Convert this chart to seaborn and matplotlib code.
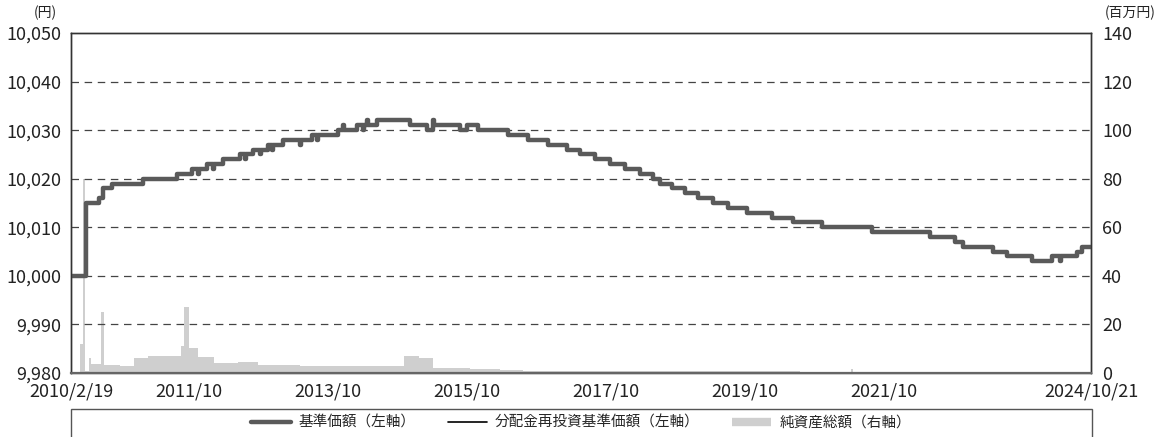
import pandas as pd
import numpy as np
import matplotlib.pyplot as plt
import matplotlib.ticker as mticker
from matplotlib.lines import Line2D
from matplotlib.patches import Rectangle
import seaborn as sns

# 基準価額（円）: 値が変わった日と値
price_dates = ['2010-02-19', '2010-05-09', '2010-07-16', '2010-08-06', '2010-09-22',
               '2011-03-04', '2011-08-30', '2011-11-17', '2011-12-18', '2011-12-24',
               '2012-02-03', '2012-03-06', '2012-03-12', '2012-04-27', '2012-07-26',
               '2012-08-21', '2012-08-27', '2012-10-02', '2012-11-08', '2012-11-14',
               '2012-12-20', '2013-01-10', '2013-01-16', '2013-03-09', '2013-06-06',
               '2013-06-12', '2013-08-08', '2013-09-03', '2013-09-09', '2013-12-23',
               '2014-01-18', '2014-01-24', '2014-04-01', '2014-05-03', '2014-05-09',
               '2014-05-24', '2014-05-30', '2014-07-15', '2015-01-05', '2015-04-04',
               '2015-05-06', '2015-05-12', '2015-09-24', '2015-10-31', '2015-12-28',
               '2016-06-03', '2016-09-16', '2016-12-30', '2017-04-09', '2017-06-16',
               '2017-09-03', '2017-11-20', '2018-02-07', '2018-04-27', '2018-07-04',
               '2018-08-10', '2018-10-12', '2018-12-19', '2019-02-26', '2019-05-15',
               '2019-08-02', '2019-11-10', '2020-03-20', '2020-07-09', '2020-12-08',
               '2021-08-28', '2022-06-28', '2022-11-07', '2022-12-19', '2023-05-25',
               '2023-08-07', '2023-12-16', '2024-03-30', '2024-05-12', '2024-05-18',
               '2024-08-08', '2024-09-04', '2024-10-21']
price_values = [10000, 10015, 10016, 10018, 10019,
                10020, 10021, 10022, 10021, 10022,
                10023, 10022, 10023, 10024, 10025,
                10024, 10025, 10026, 10025, 10026,
                10027, 10026, 10027, 10028, 10027,
                10028, 10029, 10028, 10029, 10030,
                10031, 10030, 10031, 10030, 10031,
                10032, 10031, 10032, 10031, 10030,
                10032, 10031, 10030, 10031, 10030,
                10029, 10028, 10027, 10026, 10025,
                10024, 10023, 10022, 10021, 10020,
                10019, 10018, 10017, 10016, 10015,
                10014, 10013, 10012, 10011, 10010,
                10009, 10008, 10007, 10006, 10005,
                10004, 10003, 10004, 10003, 10004,
                10005, 10006, 10006]

# 純資産総額（百万円）
nav_dates = ['2010-02-19', '2010-04-07', '2010-04-23', '2010-05-04', '2010-05-25',
             '2010-06-04', '2010-07-27', '2010-08-11', '2010-11-03', '2011-01-16',
             '2011-03-30', '2011-06-28', '2011-09-20', '2011-10-06', '2011-11-01',
             '2011-12-18', '2012-03-11', '2012-07-15', '2012-10-28', '2013-06-06',
             '2013-11-15', '2014-12-04', '2015-02-21', '2015-05-06', '2015-11-16',
             '2016-04-22', '2016-08-20', '2018-04-27', '2020-08-15', '2021-05-10',
             '2021-05-20', '2024-10-21']
nav_values = [0.5, 12, 80, 1, 6,
              3.8, 25, 3.3, 3, 6.2,
              7, 7.2, 11, 27, 10.4,
              6.6, 4, 4.5, 3.2, 3,
              2.7, 7, 6, 2, 1.8,
              1.3, 1, 0.8, 0.5, 1.5,
              0.5, 0.5]

left_ticks = [9980, 9990, 10000, 10010, 10020, 10030, 10040, 10050]
right_ticks = [0, 20, 40, 60, 80, 100, 120, 140]
xtick_dates = ['2010-02-19', '2011-10-31', '2013-10-31', '2015-10-30',
               '2017-10-31', '2019-10-31', '2021-10-29', '2024-10-21']
xtick_labels = ['2010/2/19', '2011/10', '2013/10', '2015/10',
                '2017/10', '2019/10', '2021/10', '2024/10/21']

sns.set_theme(style='white')
plt.rcParams['font.family'] = ['Noto Sans CJK JP', 'DejaVu Sans']

price = pd.DataFrame({'date': pd.to_datetime(price_dates), 'value': price_values})
nav = pd.DataFrame({'date': pd.to_datetime(nav_dates), 'value': nav_values})

fig = plt.figure(figsize=(11.7, 4.37), dpi=100)
ax = fig.add_axes([71 / 1170, 1 - 373 / 437, 1020 / 1170, 340 / 437])
ax2 = ax.twinx()

# 純資産総額（右軸）
ax2.fill_between(nav['date'], nav['value'], step='post', color='#cfcfcf', lw=0)
ax2.set_ylim(0, 140)
ax2.set_yticks(right_ticks)

# 基準価額 / 分配金再投資基準価額（左軸）
sns.lineplot(data=price, x='date', y='value', ax=ax, drawstyle='steps-post',
             color='black', linewidth=1.2)
sns.lineplot(data=price, x='date', y='value', ax=ax, drawstyle='steps-post',
             color='#5a5a5a', linewidth=3.2)
ax.set_zorder(ax2.get_zorder() + 1)
ax.patch.set_visible(False)

ax.set_ylim(9980, 10050)
ax.set_yticks(left_ticks)
ax.yaxis.set_major_formatter(mticker.StrMethodFormatter('{x:,.0f}'))
ax.set_xlim(pd.Timestamp('2010-02-19'), pd.Timestamp('2024-10-21'))
ax.set_xticks(pd.to_datetime(xtick_dates))
ax.set_xticklabels(xtick_labels)
ax.set_xlabel('')
ax.set_ylabel('')

for y in left_ticks[1:-1]:
    ax.axhline(y, color='#444444', linewidth=0.9, linestyle=(0, (6, 4.5)), zorder=1)

for a in (ax, ax2):
    for s in a.spines.values():
        s.set_color('#333333')
        s.set_linewidth(1.0)
ax.spines['bottom'].set_color('#666666')
ax.spines['bottom'].set_linewidth(1.6)

ax.tick_params(axis='y', length=0, pad=7, labelsize=13, labelcolor='#222222')
ax2.tick_params(axis='y', length=0, pad=8, labelsize=13, labelcolor='#222222')
ax.tick_params(axis='x', direction='in', length=6, width=1, color='#333333',
               pad=7, labelsize=13, labelcolor='#222222')
xt = ax.xaxis.get_major_ticks()
xt[0].tick1line.set_visible(False)
xt[-1].tick1line.set_visible(False)

fig.text(45 / 1170, 1 - 13 / 437, '(円)', ha='center', va='center', fontsize=10, color='#222222')
fig.text(1130 / 1170, 1 - 13 / 437, '(百万円)', ha='center', va='center', fontsize=10, color='#222222')

# 凡例（下部の枠）
fig.patches.append(Rectangle((71 / 1170, -0.1), 1021 / 1170, 0.1 + (1 - 409 / 437),
                             transform=fig.transFigure, fill=False,
                             edgecolor='#555555', linewidth=1.0, clip_on=False))
handles = [Line2D([], [], color='#5a5a5a', linewidth=3.2),
           Line2D([], [], color='black', linewidth=1.2),
           Line2D([], [], color='#cfcfcf', linewidth=6, solid_capstyle='butt')]
labels = ['基準価額（左軸）', '分配金再投資基準価額（左軸）', '純資産総額（右軸）']
fig.legend(handles, labels, loc='center', bbox_to_anchor=(581 / 1170, 1 - 423 / 437),
           ncol=3, frameon=False, fontsize=10.5, handlelength=2.7, handletextpad=0.55,
           columnspacing=2.2, borderpad=0)

fig.savefig('out.png', dpi=100)
